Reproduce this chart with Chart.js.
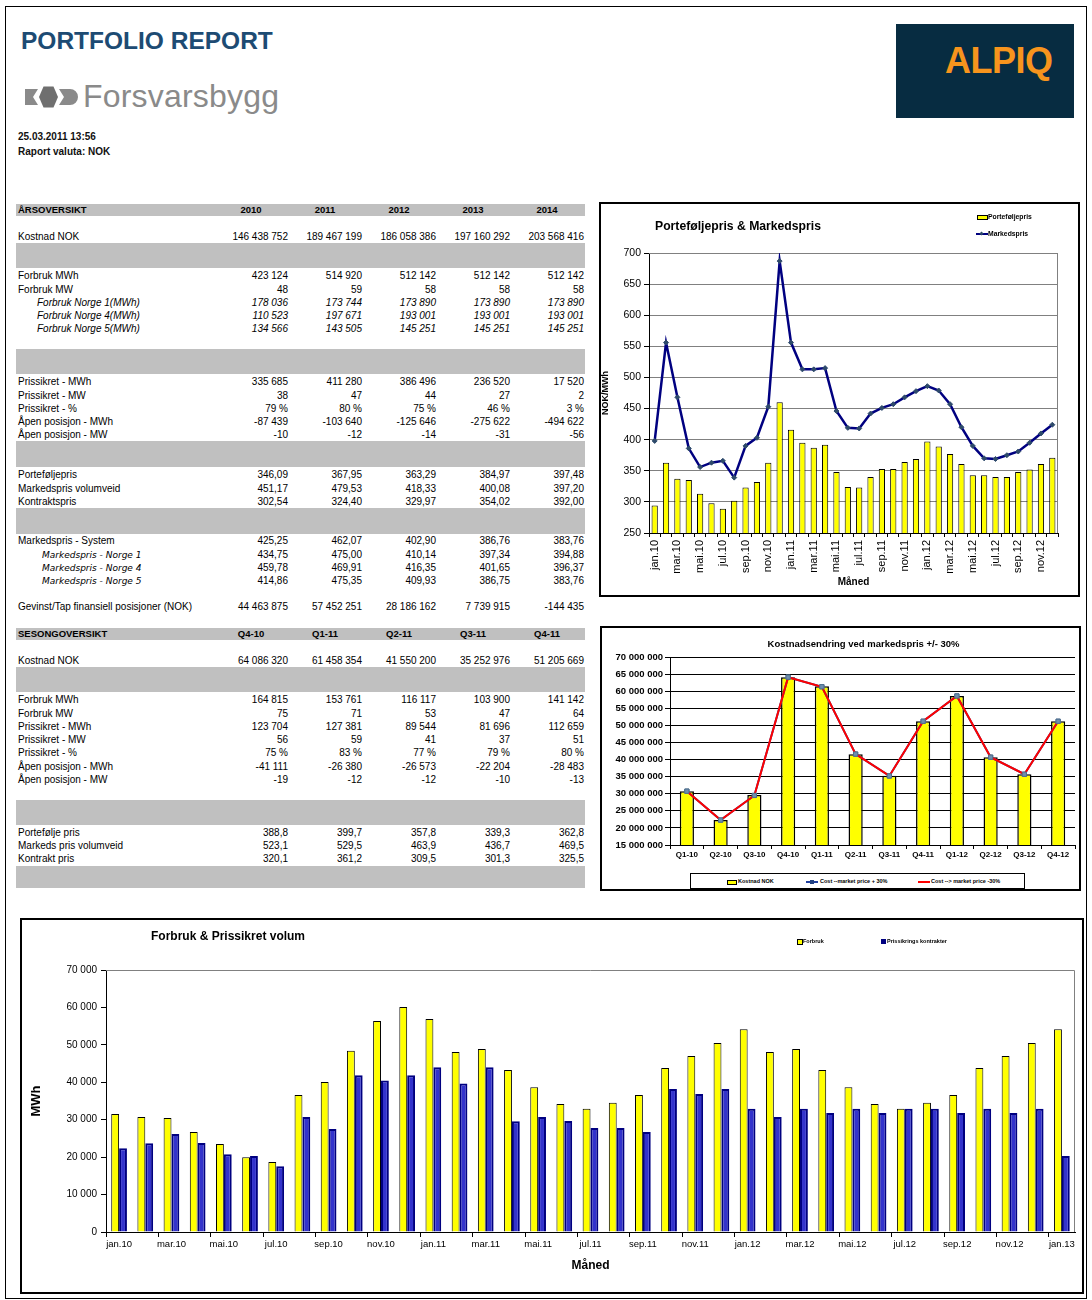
<!DOCTYPE html>
<html lang="no">
<head>
<meta charset="utf-8">
<title>Portfolio report</title>
<script src="https://cdn.jsdelivr.net/npm/chart.js@4.4.1/dist/chart.umd.min.js"></script>
<style>
  html, body { margin: 0; padding: 0; background: #fff; }
  body { width: 1092px; height: 1300px; position: relative; overflow: hidden;
         font-family: "Liberation Sans", Arial, sans-serif; color: #000; }
  .a { position: absolute; white-space: nowrap; }
  .page { left: 5px; top: 6px; width: 1080px; height: 1291px; border: 1px solid #000; }
  .box { border: 2px solid #000; box-sizing: border-box; }
  .rtitle { left: 21px; top: 28px; font-size: 24.5px; line-height: 25px; font-weight: bold; color: #1d4b73; }
  .logo { left: 83px; top: 79px; font-size: 32px; line-height: 34px; color: #8a8a8a; letter-spacing: 0.2px; }
  .meta { left: 18px; font-size: 10px; line-height: 12px; font-weight: bold; color: #111; }
  .alpiq { left: 896px; top: 24px; width: 178px; height: 94px; background: #072c41; }
  .alpiq span { position: absolute; left: 49px; top: 18px; font-size: 36px; line-height: 38px;
                font-weight: bold; color: #f7941d; letter-spacing: -0.5px; }
  .band { left: 16px; width: 569px; background: #c0c0c0; }
  .t { height: 14px; line-height: 14px; font-size: 10px; }
  .v { width: 90px; text-align: right; }
  .hc { width: 74px; text-align: center; }
  .h { font-weight: bold; font-size: 9.5px; }
  .i { font-style: italic; }
  .d { font-family: "DejaVu Sans", sans-serif; font-style: italic; font-size: 9px; }
  .ctitle { font-weight: bold; color: #000; }
  .leg { font-weight: bold; color: #000; }
  canvas { position: absolute; }
</style>
</head>
<body>
<div class="a page"></div>

<div class="a rtitle">PORTFOLIO REPORT</div>
<svg class="a" style="left:25px;top:85px" width="56" height="24" viewBox="0 0 56 24">
  <path d="M0,4 H13 L8,12 L13,20 H0 Z" fill="#8a8a8a"/>
  <polygon points="14,12 18.5,1.5 28.5,1.5 33,12 28.5,22.5 18.5,22.5" fill="#6f6f6f"/>
  <path d="M34,4 H45 A8,8 0 0 1 45,20 H34 L39,12 Z" fill="#8a8a8a"/>
</svg>
<div class="a logo">Forsvarsbygg</div>
<div class="a meta" style="top:131px">25.03.2011 13:56</div>
<div class="a meta" style="top:146px">Raport valuta: NOK</div>
<div class="a alpiq"><span>ALPIQ</span></div>

<!-- chart 1 -->
<div class="a box" style="left:599px;top:202px;width:481px;height:395px"></div>
<canvas id="c1" width="478" height="390" style="left:600px;top:204px"></canvas>
<div class="a ctitle" style="left:655px;top:219px;font-size:12.2px;line-height:14px">Porteføljepris &amp; Markedspris</div>
<div class="a" style="left:977px;top:215px;width:9px;height:3px;background:#ffff00;border:1px solid #000"></div>
<div class="a leg" style="left:988px;top:213px;font-size:6.8px;line-height:8px">Porteføljepris</div>
<div class="a" style="left:976px;top:233px;width:12px;height:2px;background:#000080"></div>
<div class="a" style="left:980px;top:232px;width:3px;height:3px;background:#2e4a6b;transform:rotate(45deg)"></div>
<div class="a leg" style="left:988px;top:230px;font-size:6.8px;line-height:8px">Markedspris</div>

<!-- chart 2 -->
<div class="a box" style="left:600px;top:626px;width:481px;height:265px"></div>
<canvas id="c2" width="479" height="240" style="left:601px;top:628px"></canvas>
<div class="a ctitle" style="left:600px;top:638px;width:527px;text-align:center;font-size:9.5px;line-height:12px">Kostnadsendring ved markedspris +/- 30%</div>
<div class="a" style="left:690px;top:873px;width:335px;height:16px;border:1px solid #000;box-sizing:border-box"></div>
<div class="a" style="left:727px;top:880px;width:8px;height:3px;background:#ffff00;border:1px solid #000"></div>
<div class="a leg" style="left:738px;top:878px;font-size:5.5px;line-height:7px">Kostnad NOK</div>
<div class="a" style="left:806px;top:881px;width:12px;height:2px;background:#1f3fa0"></div>
<div class="a" style="left:810px;top:880px;width:4px;height:4px;background:#1f3f80"></div>
<div class="a leg" style="left:820px;top:878px;font-size:5.5px;line-height:7px">Cost --market price + 30%</div>
<div class="a" style="left:918px;top:881px;width:12px;height:2px;background:#ff0000"></div>
<div class="a leg" style="left:931px;top:878px;font-size:5.5px;line-height:7px">Cost --&gt; market price -30%</div>

<!-- chart 3 -->
<div class="a box" style="left:20px;top:918px;width:1064px;height:376px"></div>
<canvas id="c3" width="1058" height="370" style="left:22px;top:920px"></canvas>
<div class="a ctitle" style="left:151px;top:929px;font-size:12px;line-height:14px">Forbruk &amp; Prissikret volum</div>
<div class="a" style="left:797px;top:939px;width:4px;height:4px;background:#ffff00;border:1px solid #000"></div>
<div class="a leg" style="left:803px;top:937px;font-size:5.5px;line-height:8px">Forbruk</div>
<div class="a" style="left:881px;top:939px;width:5px;height:5px;background:#000080"></div>
<div class="a leg" style="left:887px;top:937px;font-size:5.5px;line-height:8px">Prissikrings kontrakter</div>

<script>
// ---- table data ----
const YEAR_COLS = ['2010', '2011', '2012', '2013', '2014'];
const QUARTER_COLS = ['Q4-10', 'Q1-11', 'Q2-11', 'Q3-11', 'Q4-11'];

const Y_KOSTNAD = ['146 438 752', '189 467 199', '186 058 386', '197 160 292', '203 568 416'];
const Y_FORBRUK_MWH = ['423 124', '514 920', '512 142', '512 142', '512 142'];
const Y_FORBRUK_MW = ['48', '59', '58', '58', '58'];
const Y_NORGE1 = ['178 036', '173 744', '173 890', '173 890', '173 890'];
const Y_NORGE4 = ['110 523', '197 671', '193 001', '193 001', '193 001'];
const Y_NORGE5 = ['134 566', '143 505', '145 251', '145 251', '145 251'];
const Y_PRIS_MWH = ['335 685', '411 280', '386 496', '236 520', '17 520'];
const Y_PRIS_MW = ['38', '47', '44', '27', '2'];
const Y_PRIS_PCT = ['79 %', '80 %', '75 %', '46 %', '3 %'];
const Y_APEN_MWH = ['-87 439', '-103 640', '-125 646', '-275 622', '-494 622'];
const Y_APEN_MW = ['-10', '-12', '-14', '-31', '-56'];
const Y_PORTEFOLJE = ['346,09', '367,95', '363,29', '384,97', '397,48'];
const Y_MARKED_VV = ['451,17', '479,53', '418,33', '400,08', '397,20'];
const Y_KONTRAKT = ['302,54', '324,40', '329,97', '354,02', '392,00'];
const Y_SYSTEM = ['425,25', '462,07', '402,90', '386,76', '383,76'];
const Y_MP_NORGE1 = ['434,75', '475,00', '410,14', '397,34', '394,88'];
const Y_MP_NORGE4 = ['459,78', '469,91', '416,35', '401,65', '396,37'];
const Y_MP_NORGE5 = ['414,86', '475,35', '409,93', '386,75', '383,76'];
const Y_GEVINST = ['44 463 875', '57 452 251', '28 186 162', '7 739 915', '-144 435'];

const Q_KOSTNAD = ['64 086 320', '61 458 354', '41 550 200', '35 252 976', '51 205 669'];
const Q_FORBRUK_MWH = ['164 815', '153 761', '116 117', '103 900', '141 142'];
const Q_FORBRUK_MW = ['75', '71', '53', '47', '64'];
const Q_PRIS_MWH = ['123 704', '127 381', '89 544', '81 696', '112 659'];
const Q_PRIS_MW = ['56', '59', '41', '37', '51'];
const Q_PRIS_PCT = ['75 %', '83 %', '77 %', '79 %', '80 %'];
const Q_APEN_MWH = ['-41 111', '-26 380', '-26 573', '-22 204', '-28 483'];
const Q_APEN_MW = ['-19', '-12', '-12', '-10', '-13'];
const Q_PORTEFOLJE = ['388,8', '399,7', '357,8', '339,3', '362,8'];
const Q_MARKED_VV = ['523,1', '529,5', '463,9', '436,7', '469,5'];
const Q_KONTRAKT = ['320,1', '361,2', '309,5', '301,3', '325,5'];

// ---- chart data ----
const MONTH_LABELS = ['jan.10', 'feb.10', 'mar.10', 'apr.10', 'mai.10', 'jun.10', 'jul.10', 'aug.10', 'sep.10', 'okt.10', 'nov.10', 'des.10',
  'jan.11', 'feb.11', 'mar.11', 'apr.11', 'mai.11', 'jun.11', 'jul.11', 'aug.11', 'sep.11', 'okt.11', 'nov.11', 'des.11',
  'jan.12', 'feb.12', 'mar.12', 'apr.12', 'mai.12', 'jun.12', 'jul.12', 'aug.12', 'sep.12', 'okt.12', 'nov.12', 'des.12', 'jan.13'];

const PORTFOLIO_PRICE = [294, 363, 337, 335, 313, 298, 289, 302, 323, 332, 363, 460,
  416, 395, 387, 392, 348, 324, 323, 340, 353, 353, 364, 369,
  397, 389, 377, 361, 343, 343, 340, 340, 348, 352, 361, 371];
const MARKET_PRICE = [398, 556, 468, 386, 356, 363, 366, 339, 390, 403, 453, 687,
  556, 513, 513, 515, 446, 419, 418, 442, 451, 457, 468, 478,
  486, 479, 457, 420, 390, 370, 369, 375, 381, 395, 410, 424];

const QUARTER_LABELS = ['Q1-10', 'Q2-10', 'Q3-10', 'Q4-10', 'Q1-11', 'Q2-11', 'Q3-11', 'Q4-11', 'Q1-12', 'Q2-12', 'Q3-12', 'Q4-12'];
const COST_NOK = [30700000, 22300000, 29600000, 64086320, 61458354, 41550200, 35252976, 51205669, 58600000, 40700000, 35700000, 51200000];
const COST_PLUS_30 = [30750000, 22300000, 29500000, 64100000, 61300000, 41600000, 35200000, 51200000, 58600000, 40700000, 35700000, 51200000];
const COST_MINUS_30 = [30750000, 22300000, 29500000, 64100000, 61300000, 41600000, 35200000, 51200000, 58600000, 40700000, 35700000, 51200000];

const FORBRUK = [31500, 30700, 30450, 26700, 23500, 20000, 18700, 36600, 40100, 48400, 56400, 60100,
  56900, 48100, 48900, 43300, 38700, 34200, 32900, 34500, 36600, 43800, 47000, 50500,
  54200, 48100, 48900, 43300, 38700, 34200, 32900, 34500, 36600, 43800, 47000, 50500, 54200];
const PRISSIKRET = [22400, 23700, 26200, 23800, 20800, 20300, 17600, 30700, 27500, 41900, 40500, 41900,
  44000, 39700, 44000, 29600, 30700, 29650, 27800, 27800, 26700, 38200, 36900, 38200,
  32900, 30700, 32900, 31800, 32900, 31800, 32900, 32900, 31800, 32900, 31800, 32900, 20300];

// ---- table ----
const COL_RIGHT = [288, 362, 436, 510, 584];

function el(cls, text, style) {
  const d = document.createElement('div');
  d.className = 'a ' + cls;
  d.textContent = text;
  Object.assign(d.style, style);
  document.body.appendChild(d);
  return d;
}

function band(top, bottom) {
  el('band', '', { top: top + 'px', height: (bottom - top) + 'px' });
}

function head(label, cols, top, bottom) {
  band(top, bottom);
  const y = (top + bottom) / 2;
  el('t h', label, { left: '18px', top: (y - 7) + 'px' });
  cols.forEach((c, i) => el('t h hc', c, { left: (COL_RIGHT[i] - 74) + 'px', top: (y - 7) + 'px' }));
}

function row(label, vals, y, kind) {
  const indent = kind === 'i' ? 37 : kind === 'd' ? 42 : 18;
  el('t ' + (kind || ''), label, { left: indent + 'px', top: (y - 7) + 'px' });
  const vcls = kind === 'i' ? 't v i' : 't v';
  vals.forEach((v, i) => el(vcls, v, { left: (COL_RIGHT[i] - 90) + 'px', top: (y - 7) + 'px' }));
}

head('ÅRSOVERSIKT', YEAR_COLS, 204, 216);
row('Kostnad NOK', Y_KOSTNAD, 237);
band(243, 268);
row('Forbruk MWh', Y_FORBRUK_MWH, 276);
row('Forbruk MW', Y_FORBRUK_MW, 290);
row('Forbruk Norge 1(MWh)', Y_NORGE1, 303, 'i');
row('Forbruk Norge 4(MWh)', Y_NORGE4, 316, 'i');
row('Forbruk Norge 5(MWh)', Y_NORGE5, 329, 'i');
band(349, 374);
row('Prissikret - MWh', Y_PRIS_MWH, 382);
row('Prissikret - MW', Y_PRIS_MW, 396);
row('Prissikret - %', Y_PRIS_PCT, 409);
row('Åpen posisjon - MWh', Y_APEN_MWH, 422);
row('Åpen posisjon - MW', Y_APEN_MW, 435);
band(441, 467);
row('Porteføljepris', Y_PORTEFOLJE, 475);
row('Markedspris volumveid', Y_MARKED_VV, 489);
row('Kontraktspris', Y_KONTRAKT, 502);
band(508, 534);
row('Markedspris - System', Y_SYSTEM, 541);
row('Markedspris - Norge 1', Y_MP_NORGE1, 555, 'd');
row('Markedspris - Norge 4', Y_MP_NORGE4, 568, 'd');
row('Markedspris - Norge 5', Y_MP_NORGE5, 581, 'd');
row('Gevinst/Tap finansiell posisjoner (NOK)', Y_GEVINST, 607);

head('SESONGOVERSIKT', QUARTER_COLS, 628, 640);
row('Kostnad NOK', Q_KOSTNAD, 661);
band(667, 692);
row('Forbruk MWh', Q_FORBRUK_MWH, 700);
row('Forbruk MW', Q_FORBRUK_MW, 714);
row('Prissikret - MWh', Q_PRIS_MWH, 727);
row('Prissikret - MW', Q_PRIS_MW, 740);
row('Prissikret - %', Q_PRIS_PCT, 753);
row('Åpen posisjon - MWh', Q_APEN_MWH, 767);
row('Åpen posisjon - MW', Q_APEN_MW, 780);
band(800, 825);
row('Portefølje pris', Q_PORTEFOLJE, 833);
row('Markeds pris volumveid', Q_MARKED_VV, 846);
row('Kontrakt pris', Q_KONTRAKT, 859);
band(866, 888);

// ---- charts ----
const FONT = 'Liberation Sans, Arial, sans-serif';
Chart.defaults.font.family = FONT;
Chart.defaults.color = '#000';

function spaced(v) {
  return String(v).replace(/\B(?=(\d{3})+(?!\d))/g, ' ');
}

// grey line on top and right side of the plot area
const plotFrame = {
  id: 'plotFrame',
  beforeDatasetsDraw(chart, args, opts) {
    if (!opts.color) return;
    const { ctx, chartArea: a } = chart;
    ctx.save();
    ctx.strokeStyle = opts.color;
    ctx.lineWidth = 1;
    ctx.beginPath();
    ctx.moveTo(a.left, a.top + 0.5);
    ctx.lineTo(a.right - 0.5, a.top + 0.5);
    ctx.lineTo(a.right - 0.5, a.bottom);
    ctx.stroke();
    ctx.restore();
  }
};
Chart.register(plotFrame);

const baseOptions = {
  responsive: false,
  animation: false,
  devicePixelRatio: 1,
  events: [],
  plugins: { legend: { display: false }, title: { display: false }, tooltip: { enabled: false } }
};

function everySecond(v, i) {
  return i % 2 === 0 ? this.getLabelForValue(v) : '';
}

new Chart(document.getElementById('c1'), {
  type: 'bar',
  data: {
    labels: MONTH_LABELS.slice(0, 36),
    datasets: [
      {
        type: 'line', label: 'Markedspris', data: MARKET_PRICE, order: 0,
        borderColor: '#000080', borderWidth: 2.5, tension: 0,
        pointStyle: 'rectRot', pointRadius: 2.5, pointBackgroundColor: '#2e4a6b', pointBorderColor: '#2e4a6b', pointBorderWidth: 1
      },
      {
        label: 'Porteføljepris', data: PORTFOLIO_PRICE, order: 1,
        backgroundColor: '#ffff00', borderColor: '#000', borderWidth: 1,
        barPercentage: 0.55, categoryPercentage: 1
      }
    ]
  },
  options: {
    ...baseOptions,
    layout: { padding: { top: 49, right: 20, left: 0, bottom: 0 } },
    plugins: { ...baseOptions.plugins, plotFrame: { color: '#808080' } },
    scales: {
      x: {
        grid: { offset: true, drawOnChartArea: false, color: '#000', tickLength: 4 },
        border: { color: '#000' },
        ticks: { autoSkip: false, minRotation: 90, maxRotation: 90, padding: 3, font: { size: 11 }, callback: everySecond },
        title: { display: true, text: 'Måned', font: { size: 10, weight: 'bold' }, padding: { top: 0, bottom: 6 } },
        afterFit: s => { s.height = 61; }
      },
      y: {
        min: 250, max: 700,
        ticks: { stepSize: 50, padding: 3, font: { size: 10.5 } },
        grid: { color: '#808080', tickColor: '#000', tickLength: 5 },
        border: { color: '#000' },
        title: { display: true, text: 'NOK/MWh', font: { size: 9, weight: 'bold' }, padding: { top: 0, bottom: 0 } },
        afterFit: s => { s.width = 49; }
      }
    }
  }
});

new Chart(document.getElementById('c2'), {
  type: 'bar',
  data: {
    labels: QUARTER_LABELS,
    datasets: [
      {
        type: 'line', label: 'Cost --> market price -30%', data: COST_MINUS_30, order: 0,
        borderColor: '#ff0000', borderWidth: 2, tension: 0,
        pointStyle: 'rect', pointRadius: 3, pointBackgroundColor: '#6f8fae', pointBorderColor: '#4f6f8e', pointBorderWidth: 1
      },
      {
        type: 'line', label: 'Cost --market price + 30%', data: COST_PLUS_30, order: 1,
        borderColor: '#1f3fa0', borderWidth: 2, tension: 0,
        pointStyle: 'rect', pointRadius: 3, pointBackgroundColor: '#6f8fae', pointBorderColor: '#4f6f8e', pointBorderWidth: 1
      },
      {
        label: 'Kostnad NOK', data: COST_NOK, order: 2,
        backgroundColor: '#ffff00', borderColor: '#000', borderWidth: 1.5,
        barPercentage: 0.42, categoryPercentage: 1
      }
    ]
  },
  options: {
    ...baseOptions,
    layout: { padding: { top: 29, right: 0, left: 0, bottom: 0 } },
    scales: {
      x: {
        grid: { offset: true, drawOnChartArea: false, color: '#000', tickLength: 4 },
        border: { color: '#000' },
        ticks: { autoSkip: false, maxRotation: 0, padding: 1, font: { size: 8, weight: 'bold' } },
        afterFit: s => { s.height = 23; }
      },
      y: {
        min: 15000000, max: 70000000,
        ticks: { stepSize: 5000000, padding: 2, font: { size: 9.5, weight: 'bold' }, callback: v => spaced(v) },
        grid: { color: '#000', tickLength: 5 },
        border: { color: '#000' },
        afterFit: s => { s.width = 69; }
      }
    }
  }
});

new Chart(document.getElementById('c3'), {
  type: 'bar',
  data: {
    labels: MONTH_LABELS,
    datasets: [
      {
        label: 'Forbruk', data: FORBRUK,
        backgroundColor: '#ffff00', borderColor: '#000', borderWidth: 1,
        barPercentage: 1, categoryPercentage: 0.6
      },
      {
        label: 'Prissikrings kontrakter', data: PRISSIKRET,
        backgroundColor: '#3333cc', borderColor: '#000080', borderWidth: 2,
        barPercentage: 1, categoryPercentage: 0.6
      }
    ]
  },
  options: {
    ...baseOptions,
    layout: { padding: { top: 50, right: 5, left: 0, bottom: 0 } },
    plugins: { ...baseOptions.plugins, plotFrame: { color: '#808080' } },
    scales: {
      x: {
        grid: {
          offset: true, drawOnChartArea: false, tickLength: 5,
          color: c => (c.index % 2 === 0 ? '#000' : 'rgba(0,0,0,0)')
        },
        border: { color: '#000' },
        ticks: { autoSkip: false, maxRotation: 0, padding: 2, font: { size: 9.5 }, callback: everySecond },
        title: { display: true, text: 'Måned', font: { size: 12, weight: 'bold' }, padding: { top: 0, bottom: 17 } },
        afterFit: s => { s.height = 58; }
      },
      y: {
        min: 0, max: 70000,
        ticks: { stepSize: 10000, padding: 4, font: { size: 10 }, callback: v => spaced(v) },
        grid: { drawOnChartArea: false, color: '#000', tickLength: 5 },
        border: { color: '#000' },
        title: { display: true, text: 'MWh', font: { size: 13, weight: 'bold' }, padding: { top: 7, bottom: 0 } },
        afterFit: s => { s.width = 84; }
      }
    }
  }
});
</script>
</body>
</html>
